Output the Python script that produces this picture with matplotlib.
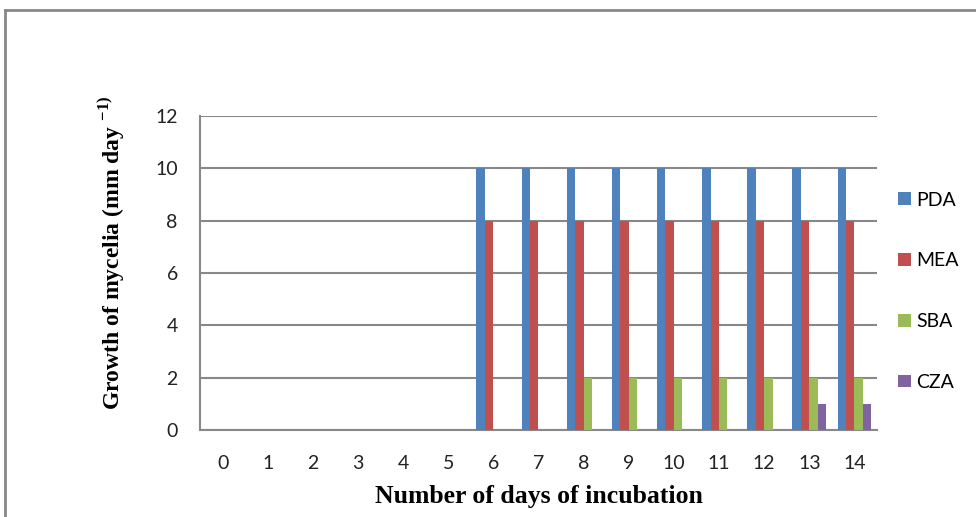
import matplotlib.pyplot as plt
from matplotlib.lines import Line2D
from numpy import arange

plt.rcParams['mathtext.fontset'] = 'custom'
plt.rcParams['mathtext.rm'] = 'Liberation Serif:bold'
plt.rcParams['mathtext.bf'] = 'Liberation Serif:bold'

# Datos
dias = [str(d) for d in range(15)]
pda = [0, 0, 0, 0, 0, 0, 10, 10, 10, 10, 10, 10, 10, 10, 10]
mea = [0, 0, 0, 0, 0, 0, 8, 8, 8, 8, 8, 8, 8, 8, 8]
sba = [0, 0, 0, 0, 0, 0, 0, 0, 2, 2, 2, 2, 2, 2, 2]
cza = [0, 0, 0, 0, 0, 0, 0, 0, 0, 0, 0, 0, 0, 1, 1]

series = [('PDA', pda, '#4F81BD'),
          ('MEA', mea, '#C0504D'),
          ('SBA', sba, '#9BBB59'),
          ('CZA', cza, '#8064A2')]

fig = plt.figure(figsize=(9.76, 5.17), dpi=100)
ax = fig.add_axes([200/976, 1 - 430/517, 677/976, 314/517])

x = arange(len(dias))
w = 0.1875
for i, (nome, vals, cor) in enumerate(series):
    ax.bar(x - 0.375 + w*(i + 0.5), vals, width=w, color=cor, label=nome,
           zorder=3)

ax.set_xlim(-0.5, len(dias) - 0.5)
ax.set_ylim(0, 12)
ax.set_yticks(arange(0, 13, 2))
ax.set_xticks(x)
ax.set_xticklabels(dias)
ax.tick_params(length=0, labelsize=14, colors='#222222')
ax.tick_params(axis='x', pad=18)
ax.tick_params(axis='y', pad=16)
for lab in ax.get_xticklabels() + ax.get_yticklabels():
    lab.set_family('Lato')

ax.grid(axis='y', color='#888888', linewidth=1.5, zorder=0)
for s in ['top', 'right']:
    ax.spines[s].set_visible(False)
for s in ['left', 'bottom']:
    ax.spines[s].set_color('#888888')
    ax.spines[s].set_linewidth(1.5)

ax.set_xlabel('Number of days of incubation', family='Liberation Serif',
              fontweight='bold', fontsize=18.5)
ax.xaxis.set_label_coords(0.5, -0.175)
ax.set_ylabel('Growth of mycelia (mm day $^{-1)}$',
              family='Liberation Serif', fontweight='bold', fontsize=17)
ax.yaxis.set_label_coords(-0.108, 0.565)

leg = ax.legend(loc='upper left', bbox_to_anchor=(1.005, 0.815), frameon=False,
                prop={'family': 'Lato', 'size': 14}, handlelength=0.65,
                handleheight=0.65, handletextpad=0.3, labelspacing=2.25)

# Moldura da figura
fig.add_artist(Line2D([5/976, 1], [1 - 10/517, 1 - 10/517], color='#888888',
                      linewidth=2))
fig.add_artist(Line2D([5/976, 5/976], [0, 1 - 10/517], color='#888888',
                      linewidth=2))

fig.savefig('out.png', dpi=100)
